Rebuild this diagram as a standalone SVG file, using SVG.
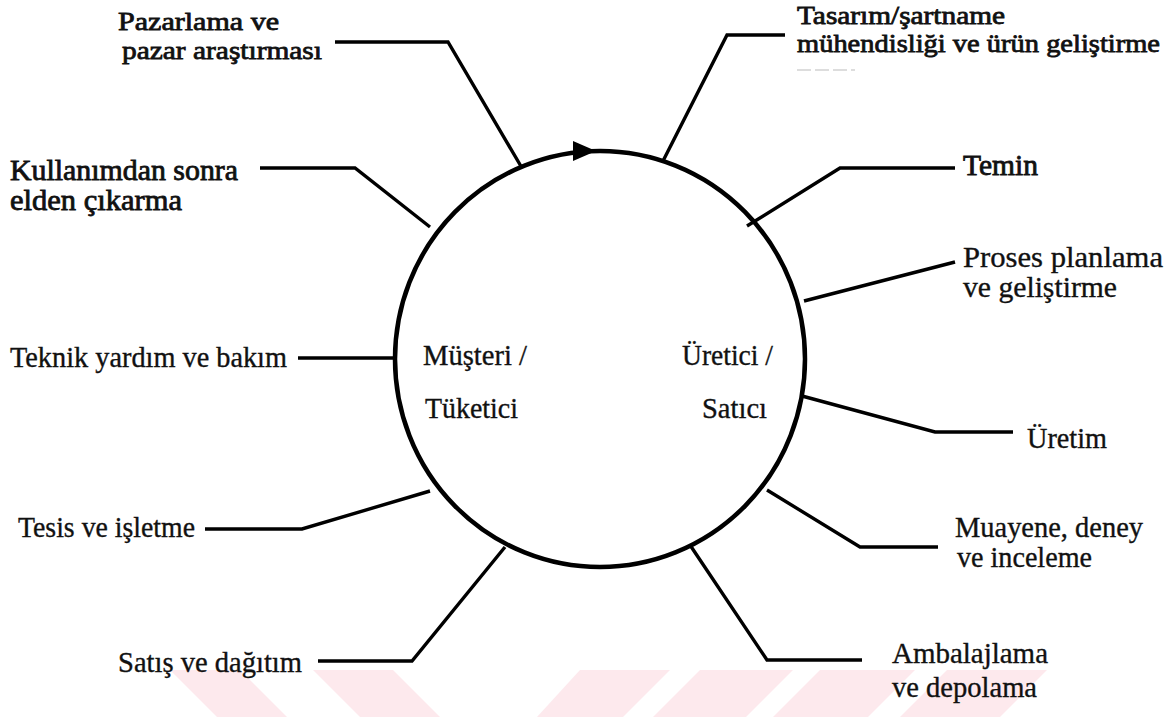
<svg xmlns="http://www.w3.org/2000/svg" width="1168" height="717" viewBox="0 0 1168 717">
<style>
.t{font-family:"Liberation Serif","Times New Roman",serif;font-size:29px;fill:#111;stroke:#111;stroke-width:0.35}
.h{stroke-width:0.8}
.s{font-size:26px}
.c{fill:none;stroke:#000;stroke-width:3.4;stroke-linejoin:miter}
.wm{fill:#fde9ed}
</style>
<rect width="1168" height="717" fill="#fff"/>
<g id="watermark">
<polygon class="wm" points="170,670 240,670 287,717 217,717"/>
<polygon class="wm" points="313,670 393,670 440,717 360,717"/>
<polygon class="wm" points="580,670 670,670 623,717 537,717"/>
<polygon class="wm" points="700,670 793,670 746,717 653,717"/>
<polygon class="wm" points="820,670 915,670 868,717 773,717"/>
<polygon class="wm" points="947,670 1047,670 1000,717 900,717"/>
</g>
<g id="cycle">
<ellipse cx="600" cy="359" rx="205" ry="208" fill="none" stroke="#000" stroke-width="4.5"/>
<polygon points="573,141 596,151 573,161" fill="#000"/>
<text class="t" x="423" y="365" textLength="104" lengthAdjust="spacingAndGlyphs">Müşteri /</text>
<text class="t" x="425" y="418" textLength="93" lengthAdjust="spacingAndGlyphs">Tüketici</text>
<text class="t" x="682" y="365" textLength="91" lengthAdjust="spacingAndGlyphs">Üretici /</text>
<text class="t" x="702" y="418" textLength="65" lengthAdjust="spacingAndGlyphs">Satıcı</text>
</g>
<g id="connectors">
<polyline class="c" points="335,42 448,42 522,168"/>
<polyline class="c" points="785,35 727,35 663,161"/>
<polyline class="c" points="260,168 355,168 430,227"/>
<polyline class="c" points="955,168 840,168 747,226"/>
<polyline class="c" points="955,262 804,301"/>
<polyline class="c" points="298,358 394,358"/>
<polyline class="c" points="802,396 935,432 1013,432"/>
<polyline class="c" points="767,490 860,547 938,547"/>
<polyline class="c" points="690,545 767,660 862,660"/>
<polyline class="c" points="205,529 302,529 430,491"/>
<polyline class="c" points="318,661 412,661 505,547"/>
<line x1="797" y1="70" x2="855" y2="70" stroke="#bbb" stroke-width="1" stroke-dasharray="14,4"/>
</g>
<g id="n-pazarlama"><text class="t h s" x="118" y="30" textLength="161" lengthAdjust="spacingAndGlyphs">Pazarlama ve</text><text class="t h s" x="122" y="59" textLength="200" lengthAdjust="spacingAndGlyphs">pazar araştırması</text></g>
<g id="n-tasarim"><text class="t h s" x="797" y="24" textLength="208" lengthAdjust="spacingAndGlyphs">Tasarım/şartname</text><text class="t h s" x="797" y="52" textLength="363" lengthAdjust="spacingAndGlyphs">mühendisliği ve ürün geliştirme</text></g>
<g id="n-kullanim"><text class="t h" x="10" y="180" textLength="228" lengthAdjust="spacingAndGlyphs">Kullanımdan sonra</text><text class="t h" x="10" y="210" textLength="172" lengthAdjust="spacingAndGlyphs">elden çıkarma</text></g>
<g id="n-temin"><text class="t h" x="963" y="175" textLength="75" lengthAdjust="spacingAndGlyphs">Temin</text></g>
<g id="n-proses"><text class="t" x="963" y="267" textLength="200" lengthAdjust="spacingAndGlyphs">Proses planlama</text><text class="t" x="963" y="297" textLength="154" lengthAdjust="spacingAndGlyphs">ve geliştirme</text></g>
<g id="n-teknik"><text class="t" x="10" y="367" textLength="277" lengthAdjust="spacingAndGlyphs">Teknik yardım ve bakım</text></g>
<g id="n-uretim"><text class="t" x="1027" y="448" textLength="80" lengthAdjust="spacingAndGlyphs">Üretim</text></g>
<g id="n-muayene"><text class="t" x="955" y="537" textLength="188" lengthAdjust="spacingAndGlyphs">Muayene, deney</text><text class="t" x="957" y="567" textLength="135" lengthAdjust="spacingAndGlyphs">ve inceleme</text></g>
<g id="n-ambalaj"><text class="t" x="892" y="663" textLength="156" lengthAdjust="spacingAndGlyphs">Ambalajlama</text><text class="t" x="892" y="697" textLength="145" lengthAdjust="spacingAndGlyphs">ve depolama</text></g>
<g id="n-tesis"><text class="t" x="18" y="537" textLength="177" lengthAdjust="spacingAndGlyphs">Tesis ve işletme</text></g>
<g id="n-satis"><text class="t" x="118" y="672" textLength="184" lengthAdjust="spacingAndGlyphs">Satış ve dağıtım</text></g>
</svg>
